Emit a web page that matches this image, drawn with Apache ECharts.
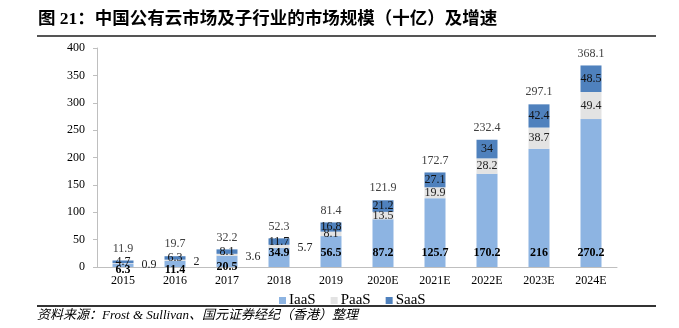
<!DOCTYPE html>
<html>
<head>
<meta charset="utf-8">
<script src="https://cdn.jsdelivr.net/npm/echarts@6/dist/echarts.min.js"></script>
<style>html,body{margin:0;padding:0;background:#fff}#c{width:679px;height:328px}</style>
</head>
<body>
<div id="c"></div>
<script>
var categories = ['2015','2016','2017','2018','2019','2020E','2021E','2022E','2023E','2024E'];
var iaas = [6.3, 11.4, 20.5, 34.9, 56.5, 87.2, 125.7, 170.2, 216, 270.2];
var paas = [0.9, 2, 3.6, 5.7, 8.1, 13.5, 19.9, 28.2, 38.7, 49.4];
var saas = [4.7, 6.3, 8.1, 11.7, 16.8, 21.2, 27.1, 34, 42.4, 48.5];
var totals = [11.9, 19.7, 32.2, 52.3, 81.4, 121.9, 172.7, 232.4, 297.1, 368.1];
var yTicks = [0, 50, 100, 150, 200, 250, 300, 350, 400];

var serif = "'Liberation Serif', 'Times New Roman', serif";
var chart = echarts.init(document.getElementById('c'));

var iaasData = iaas.map(function (v, i) {
  var d = { value: v };
  if (i <= 1) d.label = { distance: -9 };
  else if (i === 2) d.label = { distance: -6 };
  return d;
});
var paasData = paas.map(function (v, i) {
  var d = { value: v };
  if (i <= 3) d.label = { position: 'right', distance: 8, offset: [0, 2] };
  return d;
});
var totalData = totals.map(function (v) { return { value: 0, total: v }; });

chart.setOption({
  animation: false,
  textStyle: { fontFamily: serif },
  grid: { left: 97, right: 62, top: 48, bottom: 61 },
  legend: {
    data: ['IaaS', 'PaaS', 'SaaS'],
    left: 274, top: 288,
    itemWidth: 7, itemHeight: 7, itemGap: 15,
    icon: 'rect',
    textStyle: { fontFamily: serif, fontSize: 15, color: '#000', padding: [0, 0, 0, -2] }
  },
  xAxis: {
    type: 'category', data: categories,
    axisLine: { lineStyle: { color: '#BFBFBF' } },
    axisTick: { show: false },
    axisLabel: { color: '#000', fontSize: 12, fontFamily: serif, margin: 8 }
  },
  yAxis: {
    type: 'value', min: yTicks[0], max: yTicks[yTicks.length - 1], interval: 50,
    axisLine: { show: true, lineStyle: { color: '#BFBFBF' } },
    axisTick: { show: true, length: 4, lineStyle: { color: '#BFBFBF' } },
    splitLine: { show: false },
    axisLabel: { color: '#000', fontSize: 12, fontFamily: serif, margin: 12 }
  },
  series: [
    {
      name: 'IaaS', type: 'bar', stack: 's', barWidth: 21,
      itemStyle: { color: '#8DB4E2' },
      label: { show: true, position: 'insideBottom', distance: 8, color: '#000', fontWeight: 'bold', fontSize: 12, fontFamily: serif },
      data: iaasData
    },
    {
      name: 'PaaS', type: 'bar', stack: 's',
      itemStyle: { color: '#E3E3E3' },
      label: { show: true, position: 'inside', color: '#222', fontSize: 12, fontFamily: serif },
      data: paasData
    },
    {
      name: 'SaaS', type: 'bar', stack: 's',
      itemStyle: { color: '#4F81BD' },
      label: { show: true, position: 'inside', color: '#111', fontSize: 12, fontFamily: serif },
      data: saas
    },
    {
      name: 'Total', type: 'bar', stack: 's',
      itemStyle: { color: 'transparent' },
      label: {
        show: true, position: 'top', distance: 6, color: '#404040', fontSize: 12, fontFamily: serif,
        formatter: function (p) { return String(p.data.total); }
      },
      data: totalData
    }
  ],
  graphic: [
    {
      type: 'text', left: 38, top: 11,
      style: { text: '图 21：中国公有云市场及子行业的市场规模（十亿）及增速', fontSize: 17.5, fontWeight: 'bold', fontFamily: "'Liberation Serif', 'Noto Sans CJK SC', serif", fill: '#000' }
    },
    { type: 'line', shape: { x1: 37, y1: 36, x2: 656, y2: 36 }, style: { stroke: '#555', lineWidth: 2 } },
    { type: 'line', shape: { x1: 37, y1: 306, x2: 656, y2: 306 }, style: { stroke: '#333', lineWidth: 2 } },
    {
      type: 'text', left: 37, top: 309,
      style: { text: '资料来源：Frost & Sullivan、国元证券经纪（香港）整理', fontSize: 13, fontStyle: 'italic', fontFamily: "'Liberation Serif', 'Noto Sans CJK SC', serif", fill: '#000' }
    }
  ]
});
</script>
</body>
</html>
